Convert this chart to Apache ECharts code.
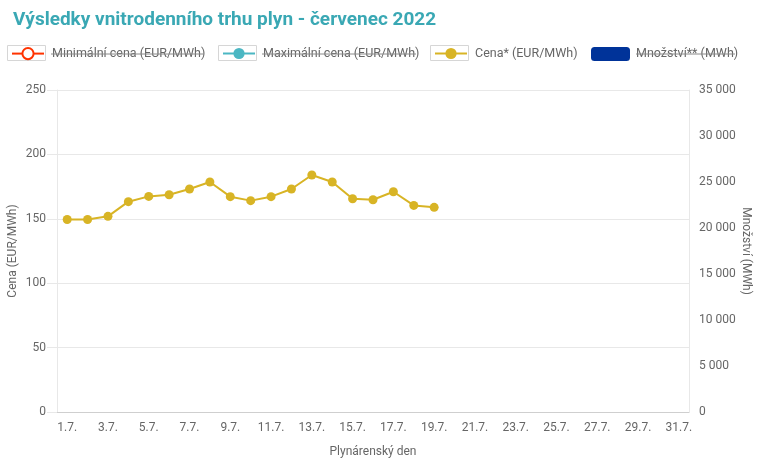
<!DOCTYPE html>
<html><head><meta charset="utf-8">
<script src="https://cdn.jsdelivr.net/npm/echarts@6/dist/echarts.min.js"></script>
<style>html,body{margin:0;padding:0;background:#fff}#c{width:780px;height:463px}</style>
</head><body><div id="c"></div>
<script>
const titleText = 'Výsledky vnitrodenního trhu plyn - červenec 2022';
const days = [];
for (let d = 1; d <= 31; d++) days.push(d + '.7.');
const cena = [149.5,149.5,151.9,163.3,167.4,168.7,173.1,178.6,167.2,164.1,167.2,173.1,184.0,178.6,165.6,164.8,171.0,160.4,158.9];
const minCena = [];
const maxCena = [];
const mnozstvi = [];
const seriesNames = ['Minimální cena (EUR/MWh)','Maximální cena (EUR/MWh)','Cena* (EUR/MWh)','Množství** (MWh)'];

const chart = echarts.init(document.getElementById('c'));
const font = 'Roboto';
const gray = '#666';
function lg(name, left, w, pad){
  return {data:[name], left:left, top:47, itemWidth:w, itemHeight:14, itemGap:0,
    textStyle:{color: gray, fontSize: 12.5, fontFamily: font, padding:[0,0,0,pad]}, padding:0, selectedMode:false};
}
function box(x){ return {type:'rect', shape:{x:x+0.5,y:45.5,width:38,height:15}, style:{fill:'none', stroke:'#d6d6d6', lineWidth:1}, z:-1}; }
function strike(x1,x2){ return {type:'line', shape:{x1:x1,y1:54,x2:x2,y2:54}, style:{stroke:'#8a8a8a', lineWidth:1}, z:100}; }
chart.setOption({
  animation:false,
  title:{text:titleText, left:8, top:6, textStyle:{color:'#3aa8b4', fontSize:19, fontWeight:'bold', fontFamily:font}},
  legend:[lg(seriesNames[0],11,32,3), lg(seriesNames[1],222,32,3), lg(seriesNames[2],434,32,3), lg(seriesNames[3],591,39,1)],
  grid:{left:57, right:91, top:90, bottom:51, containLabel:false, outerBoundsMode:'none'},
  xAxis:{type:'category', data:days, boundaryGap:true,
    axisLine:{lineStyle:{color:'#cfcfcf'}}, axisTick:{show:false},
    axisLabel:{interval:1, color:gray, fontSize:12, fontFamily:font, margin:10},
    name:'Plynárenský den', nameLocation:'middle', nameGap:34, nameMoveOverlap:false,
    nameTextStyle:{color:gray, fontSize:12, fontFamily:font}},
  yAxis:[
    {type:'value', min:0, max:250, interval:50,
     axisLine:{show:true, lineStyle:{color:'#e8e8e8'}}, axisTick:{show:true, length:10, lineStyle:{color:'#e8e8e8'}},
     axisLabel:{color:gray, fontSize:12, fontFamily:font, margin:11},
     splitLine:{lineStyle:{color:'#e8e8e8'}},
     name:'Cena (EUR/MWh)', nameLocation:'middle', nameGap:38, nameRotate:90, nameMoveOverlap:false,
     nameTextStyle:{color:gray, fontSize:12, fontFamily:font}},
    {type:'value', min:0, max:35000, interval:5000, position:'right',
     axisLine:{show:true, lineStyle:{color:'#e8e8e8'}}, axisTick:{show:false},
     axisLabel:{color:gray, fontSize:12, fontFamily:font, margin:10,
       formatter:v=>String(v).replace(/\B(?=(\d{3})+(?!\d))/g,' ')},
     splitLine:{show:false},
     name:'Množství (MWh)', nameLocation:'middle', nameGap:51, nameRotate:-90, nameMoveOverlap:false,
     nameTextStyle:{color:gray, fontSize:12, fontFamily:font}}
  ],
  graphic:[
    box(7), box(218), box(430),
    strike(51,203), strike(262,416), strike(636,735)
  ],
  series:[
    {name:seriesNames[0], type:'line', data:minCena, color:'#ff3300', symbol:'emptyCircle', symbolSize:8, lineStyle:{width:3}},
    {name:seriesNames[1], type:'line', data:maxCena, color:'#4bb7c3', symbol:'circle', symbolSize:8, lineStyle:{width:3}},
    {name:seriesNames[2], type:'line', data:cena, color:'#d8b425', symbol:'circle', symbolSize:9, lineStyle:{width:2}},
    {name:seriesNames[3], type:'bar', yAxisIndex:1, data:mnozstvi, color:'#003399'}
  ]
});
</script></body></html>
